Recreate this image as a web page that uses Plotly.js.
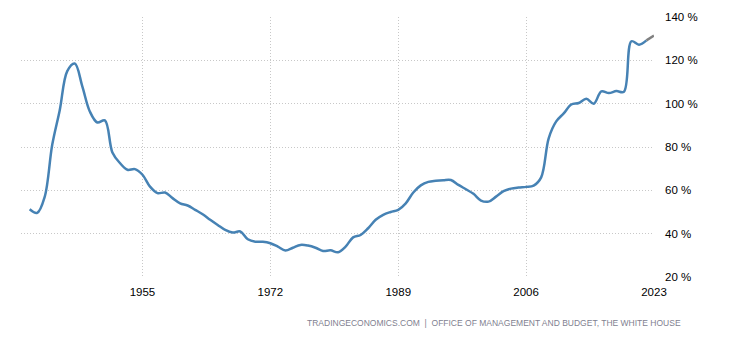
<!DOCTYPE html>
<html>
<head>
<meta charset="utf-8">
<script src="https://cdn.plot.ly/plotly-3.0.1.min.js"></script>
<style>
html,body{margin:0;padding:0;background:#fff;}
#chart{width:739px;height:359px;}
</style>
</head>
<body>
<div id="chart"></div>
<script>
const years = [1940,1941,1942,1943,1944,1945,1946,1947,1948,1949,
1950,1951,1952,1953,1954,1955,1956,1957,1958,1959,
1960,1961,1962,1963,1964,1965,1966,1967,1968,1969,
1970,1971,1972,1973,1974,1975,1976,1977,1978,1979,
1980,1981,1982,1983,1984,1985,1986,1987,1988,1989,
1990,1991,1992,1993,1994,1995,1996,1997,1998,1999,
2000,2001,2002,2003,2004,2005,2006,2007,2008,2009,
2010,2011,2012,2013,2014,2015,2016,2017,2018,2019,
2020,2021,2022];
const debtToGdp = [51.3,49.6,57,81,97,115,118.5,108,96.4,91.3,
92.3,77.5,72.6,69.5,69.8,67.2,61.7,58.7,59,56.4,
54,53,51,49,46.4,44,41.7,40.5,41,37.4,
36.3,36.3,35.6,34,32.2,33.5,34.8,34.5,33.5,32,
32.3,31.4,34,38.3,39.4,42.5,46.4,48.7,50,51,
54,59,62.3,63.9,64.4,64.7,64.8,62.5,60.5,58.4,
55.3,54.8,57.1,59.6,60.8,61.3,61.6,62.2,66,84,
91.8,95.5,99.6,100.3,102.3,100,105.7,104.9,105.8,105.5,
128.8,127.2,129.2];
const lastYears = [2022, 2023];
const lastValues = [129.2, 131.4];
const xTicks = [1955, 1972, 1989, 2006, 2023];
const yTicks = [20, 40, 60, 80, 100, 120, 140];
const sourceText = "TRADINGECONOMICS.COM  |  OFFICE OF MANAGEMENT AND BUDGET, THE WHITE HOUSE";

const traces = [
  {x: years, y: debtToGdp, type: 'scatter', mode: 'lines',
   line: {color: '#4682b4', width: 2.5, shape: 'spline', smoothing: 1},
   hoverinfo: 'x+y'},
  {x: lastYears, y: lastValues, type: 'scatter', mode: 'lines',
   line: {color: '#808080', width: 2.5}, hoverinfo: 'x+y'}
];

const layout = {
  width: 739, height: 359,
  margin: {l: 21, r: 85, t: 17, b: 82},
  paper_bgcolor: '#fff', plot_bgcolor: '#fff',
  showlegend: false,
  font: {family: 'Liberation Sans, Arial, sans-serif', size: 11, color: '#000'},
  xaxis: {
    range: [1938.85, 2023], tickvals: xTicks, ticktext: xTicks.map(String),
    showgrid: true, gridcolor: '#c8c8c8', griddash: '1px,2px', gridwidth: 1,
    zeroline: false, showline: false, ticks: '', ticklabelstandoff: 6,
    tickfont: {size: 11.5, color: '#000'}
  },
  yaxis: {
    side: 'right', range: [20, 140], tickvals: yTicks,
    ticktext: yTicks.map(v => v + ' %'),
    showgrid: true, gridcolor: '#c8c8c8', griddash: '1px,2px', gridwidth: 1,
    zeroline: false, showline: false, ticks: '', ticklabelstandoff: 10,
    tickfont: {size: 11.5, color: '#000'}
  },
  annotations: [{
    text: sourceText, xref: 'paper', yref: 'paper',
    x: 1.046, y: -0.175, xanchor: 'right', yanchor: 'middle',
    showarrow: false, font: {size: 8.5, color: '#7f7f90'}
  }]
};

Plotly.newPlot('chart', traces, layout, {displayModeBar: false, staticPlot: true});
</script>
</body>
</html>
